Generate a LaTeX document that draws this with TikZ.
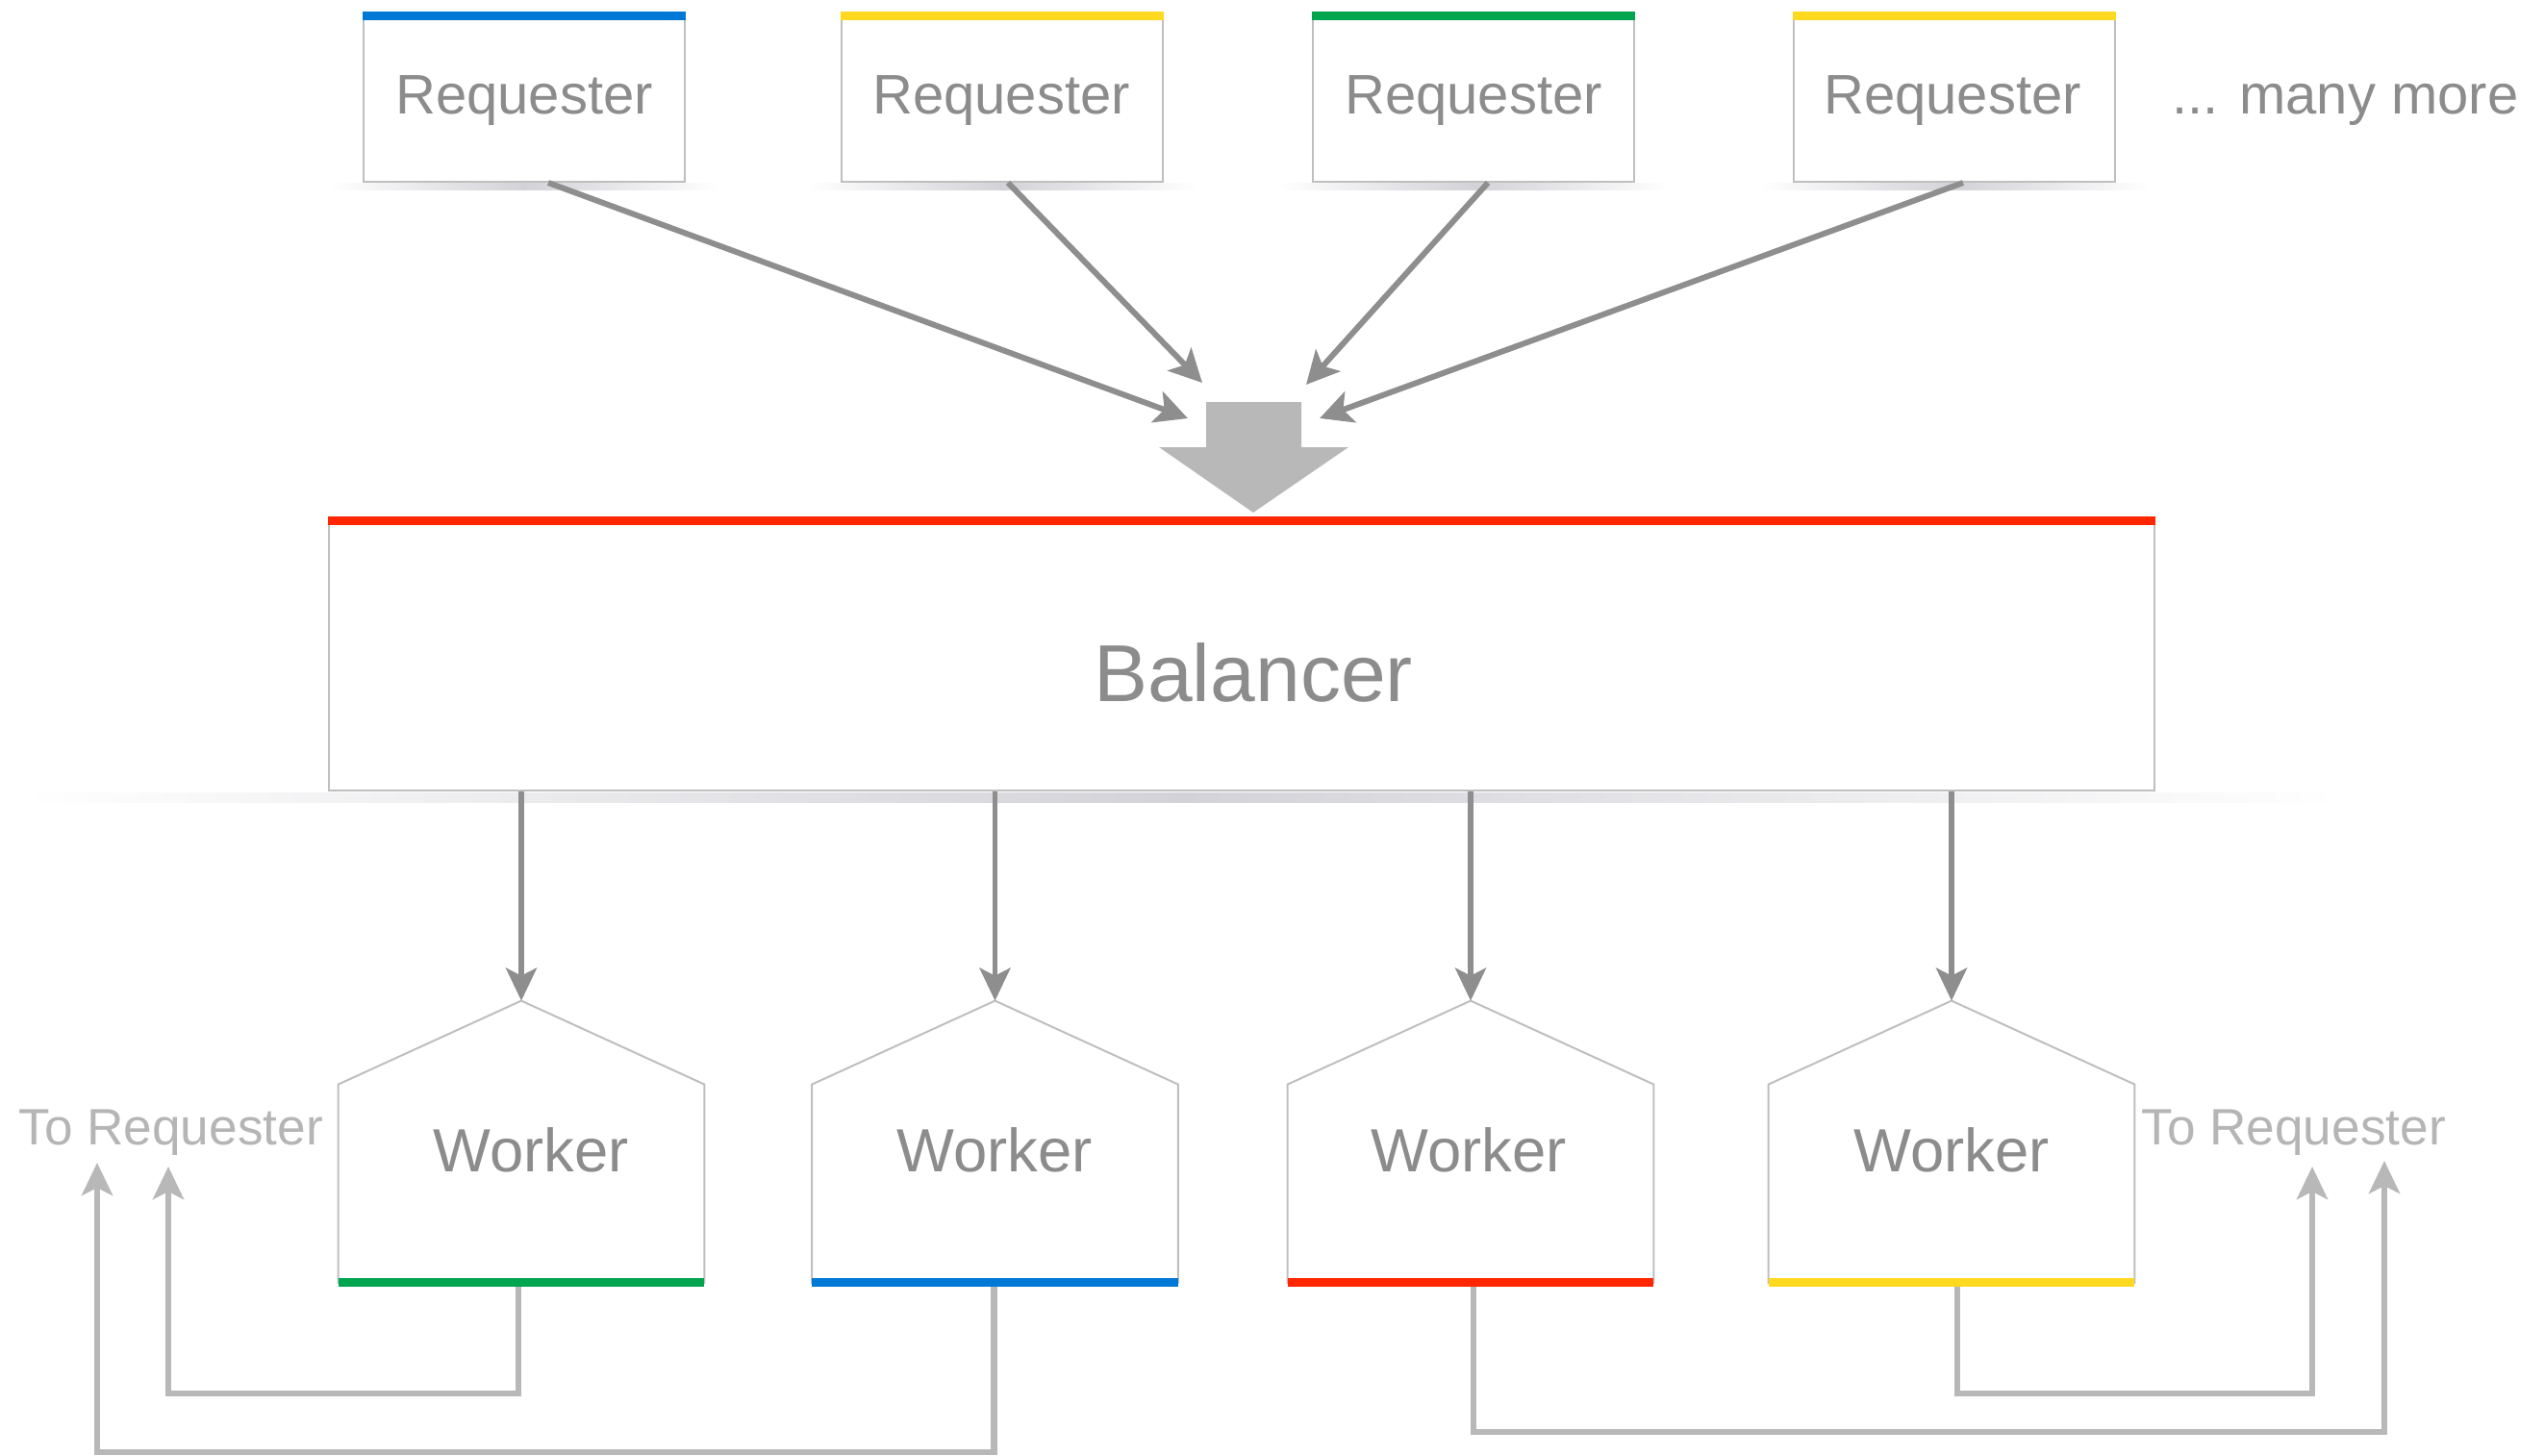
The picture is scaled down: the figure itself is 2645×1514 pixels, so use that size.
\documentclass[tikz,border=0pt]{standalone}
\usepackage{fontspec}
\setmainfont{Liberation Sans}
\usetikzlibrary{arrows.meta,calc}
\definecolor{txtgray}{HTML}{8C8C8C}
\definecolor{lighttxt}{HTML}{B5B5B5}
\definecolor{arrowgray}{HTML}{8E8E8E}
\definecolor{bigarrow}{HTML}{B8B8B8}
\definecolor{boxline}{HTML}{BFBFBF}
\definecolor{retgray}{HTML}{B8B8B8}
\definecolor{shadowc}{HTML}{D2D2D8}
\definecolor{cblue}{HTML}{0079D6}
\definecolor{cyellow}{HTML}{FFD820}
\definecolor{cgreen}{HTML}{00A550}
\definecolor{cred}{HTML}{FF2600}
\begin{document}
\begin{tikzpicture}[x=0.5pt,y=-0.5pt,
  reqbox/.style={draw=boxline, line width=1pt, fill=white, minimum width=167pt, minimum height=85.5pt, inner sep=0pt},
  balbox/.style={draw=boxline, line width=1pt, fill=white, minimum width=949pt, minimum height=140pt, inner sep=0pt},
  workerbase/.style={minimum width=190pt, minimum height=102.75pt, inner sep=0pt},
  workershape/.style={fill=white, draw=boxline, line width=1pt, line join=miter},
  lbl/.style={text=txtgray, inner sep=0pt, anchor=base},
  reqfont/.style={font=\fontsize{29pt}{34pt}\selectfont},
  workfont/.style={font=\fontsize{31.7pt}{38pt}\selectfont},
  retfont/.style={font=\fontsize{26.6pt}{31pt}\selectfont},
  topbar/.style={line width=4.5pt},
  feed/.style={draw=arrowgray, line width=3pt, -{Stealth[length=17pt,width=17pt,inset=4pt]}},
  dispatch/.style={draw=arrowgray, line width=2.8pt, -{Stealth[length=17pt,width=16pt,inset=4pt]}},
  ret/.style={draw=retgray, line width=3.4pt, -{Stealth[length=17pt,width=16pt,inset=4pt]}},
  shadowstrip/.style={left color=white, right color=white, middle color=shadowc}
]
\useasboundingbox (0,0) rectangle (2645,1514);

% requester boxes
\node[reqbox] (r1) at (545,103.5) {};
\node[reqbox] (r2) at (1042,103.5) {};
\node[reqbox] (r3) at (1532,103.5) {};
\node[reqbox] (r4) at (2032,103.5) {};
\foreach \r in {r1,r2,r3,r4}
  \shade[shadowstrip] ($(\r.south west)+(-35,1)$) rectangle ($(\r.south east)+(35,8)$);
\draw[topbar, cblue] (r1.north west) -- (r1.north east);
\draw[topbar, cyellow] (r2.north west) -- (r2.north east);
\draw[topbar, cgreen] (r3.north west) -- (r3.north east);
\draw[topbar, cyellow] (r4.north west) -- (r4.north east);
\node[lbl, reqfont] (r1t) at (545,119) {Requester};
\node[lbl, reqfont] (r2t) at (1041,119) {Requester};
\node[lbl, reqfont] (r3t) at (1532,119) {Requester};
\node[lbl, reqfont] (r4t) at (2030,119) {Requester};
\node[lbl, reqfont, anchor=base west] (more) at (2258,119) {... many more};

% balancer
\node[balbox] (bal) at (1291,682) {};
\shade[shadowstrip] ($(bal.south west)+(-317,1)$) rectangle ($(bal.south east)+(190,11)$);
\draw[topbar, cred] (bal.north west) -- (bal.north east);
\node[lbl, font=\fontsize{42pt}{50pt}\selectfont] (balt) at (1303,729) {Balancer};

% big merge arrow
\fill[bigarrow] (1254,418) -- (1353,418) -- (1353,465) -- (1402,465) -- (1303,533) -- (1205,465) -- (1254,465) -- cycle;

% feed arrows
\coordinate (t1) at (1235,435);
\coordinate (t2) at (1250,398);
\coordinate (t3) at (1358,400);
\coordinate (t4) at (1372,435);
\draw[feed] ($(r1.south)+(25,0)$) -- (t1);
\draw[feed] ($(r2.south)+(6,0)$) -- (t2);
\draw[feed] ($(r3.south)+(15,0)$) -- (t3);
\draw[feed] ($(r4.south)+(9,0)$) -- (t4);

% workers
\node[workerbase] (w1) at (542,1230.75) {};
\node[workerbase] (w2) at (1034.5,1230.75) {};
\node[workerbase] (w3) at (1529,1230.75) {};
\node[workerbase] (w4) at (2029,1230.75) {};
\foreach \w in {w1,w2,w3,w4}{
  \coordinate (\w-apex) at ($(\w.north)+(0,-87)$);
  \filldraw[workershape] (\w.north west) -- (\w-apex) -- (\w.north east) -- (\w.south east) -- (\w.south west) -- cycle;
  \draw[dispatch] (\w-apex |- bal.south) -- (\w-apex);
}
\node[lbl, workfont] (w1t) at (552,1218) {Worker};
\node[lbl, workfont] (w2t) at (1034,1218) {Worker};
\node[lbl, workfont] (w3t) at (1527,1218) {Worker};
\node[lbl, workfont] (w4t) at (2029,1218) {Worker};

% return paths
\coordinate (back1) at (175,1213);
\coordinate (back2) at (101,1209);
\coordinate (back3) at (2479,1207);
\coordinate (back4) at (2404,1213);
\draw[ret] ($(w1.south)+(-3,0)$) -- ++(0,115) -| (back1);
\draw[ret] ($(w2.south)+(-1,0)$) -- ++(0,176) -| (back2);
\draw[ret] ($(w3.south)+(3,0)$) -- ++(0,155) -| (back3);
\draw[ret] ($(w4.south)+(6,0)$) -- ++(0,115) -| (back4);

\draw[topbar, cgreen] (w1.south west) -- (w1.south east);
\draw[topbar, cblue] (w2.south west) -- (w2.south east);
\draw[topbar, cred] (w3.south west) -- (w3.south east);
\draw[topbar, cyellow] (w4.south west) -- (w4.south east);

\node[lbl, retfont, text=lighttxt, anchor=base west] (tr1) at (19,1190) {To Requester};
\node[lbl, retfont, text=lighttxt, anchor=base west] (tr2) at (2226,1190) {To Requester};
\end{tikzpicture}
\end{document}
